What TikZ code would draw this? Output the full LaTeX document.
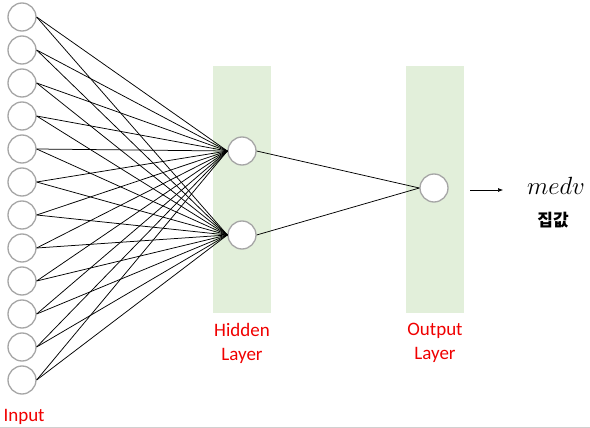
\documentclass[tikz,border=0pt]{standalone}
\usepackage{fontspec}
\setmainfont{Carlito}
\newfontfamily\krfont{Noto Sans CJK KR}
\usetikzlibrary{arrows.meta}
\tikzset{
    lab/.style={
        font=\fontsize{19}{24}\selectfont
    }
}

\begin{document}
\begin{tikzpicture}[x=1pt,y=-1pt]
    \def\unitd{28pt}
    \def\bandw{58pt}
    \def\bandh{247pt}

    \definecolor{nn-band}{HTML}{E2EFDA}
    \definecolor{nn-ring}{HTML}{A6A6A6}
    \definecolor{nn-red}{HTML}{F00000}
    \definecolor{nn-rule}{HTML}{D0D0D0}

    \tikzset{
      unit/.style={
        circle,
        draw=nn-ring,
        line width=1.3pt,
        fill=white,
        minimum size=\unitd,
        inner sep=0pt
      },
      band/.style={
        fill=nn-band,
        draw=none,
        minimum width=\bandw,
        minimum height=\bandh,
        inner sep=0pt
      },
      layerlab/.style={
        lab,
        text=nn-red,
        align=center
      },
      wire/.style={
        line width=0.75pt
      },
      outarrow/.style={
        -{Latex[length=5pt,width=4pt]},
        line width=0.6pt
      }
    }

    \useasboundingbox (0,0) rectangle (590,428);
    \draw[nn-rule, line width=1pt] (0,427.5) -- (590,427.5);

    \node[band] (hidband) at (242,189.5) {};
    \node[band] (outband) at (435,189.5) {};

    \foreach \i in {1,...,12}
      \node[unit] (in\i) at (22,{17+(\i-1)*33}) {};
    \node[unit] (hid1) at (242,151) {};
    \node[unit] (hid2) at (242,235) {};
    \node[unit] (out) at (434,188) {};

    \foreach \i in {1,...,12}
      \foreach \j in {1,2}
        \draw[wire] (in\i.east) -- (hid\j.west);
    \draw[wire] (hid1.east) -- (out.west);
    \draw[wire] (hid2.east) -- (out.west);

    \node[layerlab] (hidlab) at (242,343) {Hidden\\Layer};
    \node[layerlab] (outlab) at (435,343) {Output\\Layer};
    \node[lab, text=nn-red, anchor=west] (inlab) at (0,417) {Input};

    \node[font=\fontsize{24}{28}\selectfont] (medv) at (556,186) {$medv$};
    \node[font=\fontsize{17}{20}\selectfont\krfont\bfseries] (price) at (553,220) {집값};

    \coordinate (arrowtail) at (470,190);
    \coordinate (arrowtip) at (503,190);
    \draw[outarrow] (arrowtail) -- (arrowtip);
  \end{tikzpicture}
\end{document}
